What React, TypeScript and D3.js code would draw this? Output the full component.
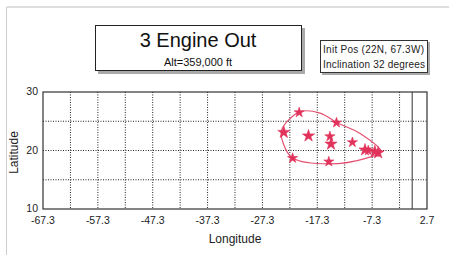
import * as d3 from "d3";

const xTicks = [-67.3, -57.3, -47.3, -37.3, -27.3, -17.3, -7.3, 2.7];
const xGrid = [-62.3, -52.3, -42.3, -32.3, -22.3, -12.3, -2.3];
const yTicks = [10, 20, 30];
const yGrid = [15, 20, 25];

const starLon = [-20.6, -13.8, -23.4, -18.9, -15.0, -14.8, -10.9, -8.6, -8.0, -6.8, -6.2, -21.8, -15.2];
const starLat = [26.5, 24.75, 23.1, 22.5, 22.4, 21.1, 21.4, 20.1, 20.0, 19.8, 19.6, 18.7, 18.1];
const starBig = [false, false, true, true, false, true, false, true, false, true, true, false, false];

const contourLon = [-23.8, -20.5, -16.8, -13.8, -9.5, -5.7, -8.3, -15.0, -21.8, -23.5];
const contourLat = [23.5, 26.6, 26.4, 24.8, 22.9, 19.8, 18.7, 17.7, 18.7, 21.2];

const pink = "#e0325a";
const font = "'Liberation Sans', Arial, sans-serif";

export default function App() {
  const width = 449;
  const height = 261;
  const left = 43;
  const right = 427;
  const top = 92;
  const bottom = 209;

  const x = d3.scaleLinear().domain([-67.3, 2.7]).range([left, right]);
  const y = d3.scaleLinear().domain([10, 30]).range([bottom, top]);

  const contour = d3
    .line<number>()
    .x((i) => x(contourLon[i]))
    .y((i) => y(contourLat[i]))
    .curve(d3.curveCatmullRomClosed.alpha(0.5));

  const star = d3.symbol().type(d3.symbolStar);

  return (
    <div style={{ position: "absolute", left: 0, top: 0 }}>
      <svg width={width} height={height} style={{ display: "block", background: "#fff" }}>
        {/* page frame */}
        <line x1={7} x2={449} y1={7} y2={7} stroke="#bbb" strokeWidth={1} />
        <line x1={6.5} x2={6.5} y1={7} y2={255} stroke="#ccc" strokeWidth={1} />

        {/* title box */}
        <rect x={98} y={28} width={207} height={46} fill="#aaa" />
        <rect x={95.5} y={25.5} width={206} height={45} fill="#fff" stroke="#222" />
        <text x={198} y={47} textAnchor="middle" fontSize={20} fontFamily={font} fill="#111">
          3 Engine Out
        </text>
        <text x={198} y={66} textAnchor="middle" fontSize={11} fontFamily={font} fill="#111">
          Alt=359,000 ft
        </text>

        {/* info box */}
        <rect x={322} y={42} width={108} height={33} fill="#aaa" />
        <rect x={320.5} y={40.5} width={107} height={32} fill="#fff" stroke="#333" />
        <text x={323} y={53} fontSize={10} fontFamily={font} fill="#222" textLength={101}>
          Init Pos (22N, 67.3W)
        </text>
        <text x={323} y={68} fontSize={10} fontFamily={font} fill="#222" textLength={102}>
          Inclination 32 degrees
        </text>

        {/* grid */}
        {xGrid.map((t) => (
          <line key={t} x1={x(t)} x2={x(t)} y1={top} y2={bottom} stroke="#222" strokeWidth={1} strokeDasharray="1,1.5" />
        ))}
        {yGrid.map((t) => (
          <line key={t} x1={left} x2={right} y1={y(t)} y2={y(t)} stroke="#222" strokeWidth={1} strokeDasharray="1,1.5" />
        ))}
        {xTicks.slice(1, -1).map((t) => (
          <line key={`tk${t}`} x1={x(t)} x2={x(t)} y1={top} y2={bottom} stroke="#222" strokeWidth={1} strokeDasharray="1,1.5" />
        ))}
        <line x1={x(0)} x2={x(0)} y1={top} y2={bottom} stroke="#333" strokeWidth={1} />
        <rect x={left} y={top} width={right - left} height={bottom - top} fill="none" stroke="#333" strokeWidth={1.2} />

        {/* tick labels */}
        {xTicks.map((t) => (
          <text key={t} x={x(t)} y={224} textAnchor="middle" fontSize={10.5} fontFamily={font} fill="#222">
            {t}
          </text>
        ))}
        {yTicks.map((t) => (
          <text key={t} x={38} y={y(t) + 3} textAnchor="end" fontSize={10.5} fontFamily={font} fill="#222">
            {t}
          </text>
        ))}
        <text x={(left + right) / 2} y={243} textAnchor="middle" fontSize={12} fontFamily={font} fill="#222">
          Longitude
        </text>
        <text
          transform={`translate(18, ${(top + bottom) / 2 + 2}) rotate(-90)`}
          textAnchor="middle"
          fontSize={12}
          fontFamily={font}
          fill="#222"
        >
          Latitude
        </text>

        {/* contour */}
        <path d={contour(d3.range(contourLon.length)) ?? ""} fill="none" stroke={pink} strokeWidth={1.2} opacity={0.85} />

        {/* stars */}
        {starLon.map((lon, i) => (
          <path
            key={i}
            d={star.size(starBig[i] ? 46 : 32)() ?? ""}
            transform={`translate(${x(lon)},${y(starLat[i])})`}
            fill={pink}
            stroke={pink}
            strokeWidth={0.6}
          />
        ))}
      </svg>
    </div>
  );
}
